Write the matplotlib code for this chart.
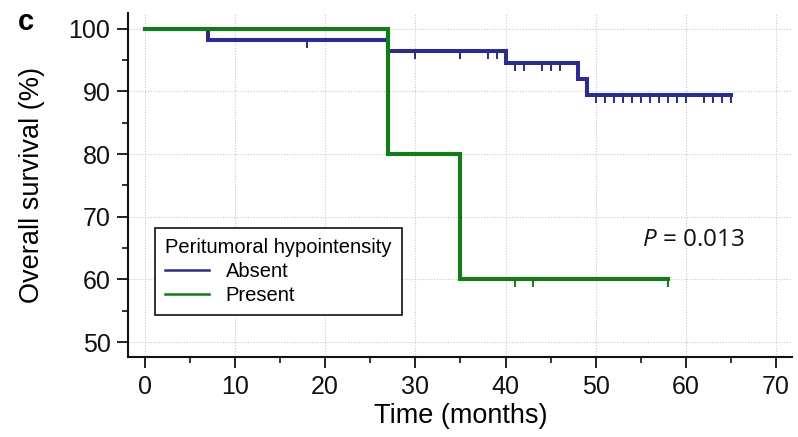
import numpy as np
import matplotlib
matplotlib.use("Agg")
import matplotlib.pyplot as plt
from matplotlib.lines import Line2D

plt.rcParams['font.family'] = ['Liberation Sans', 'DejaVu Sans']
plt.rcParams['mathtext.fontset'] = 'custom'
plt.rcParams['mathtext.it'] = 'Open Sans:italic'
plt.rcParams['mathtext.rm'] = 'Open Sans'

# ---- data ----
absent_times = [0, 7, 27, 40, 48, 49, 65]
absent_surv = [100, 98.2, 96.4, 94.5, 92.0, 89.5, 89.5]
absent_censor = [18, 30, 35, 38, 39, 41, 42, 44, 45, 46,
                 50, 51, 52, 53, 54, 55, 56, 57, 58, 59, 60, 62, 63, 64, 65]
present_times = [0, 27, 35, 58]
present_surv = [100, 80, 60, 60]
present_censor = [41, 43, 58]

series_names = ["Absent", "Present"]
colors = ["#2a2a9a", "#0e7f12"]
x_ticks = [0, 10, 20, 30, 40, 50, 60, 70]
y_ticks = [50, 60, 70, 80, 90, 100]


def surv_at(times, surv, t):
    idx = np.searchsorted(times, t, side='right') - 1
    return np.asarray(surv)[idx]


fig = plt.figure(figsize=(7.98, 4.37), dpi=100)
ax = fig.add_axes([0.161, 0.184, 0.832, 0.786])

ax.set_xlim(-1.8, 71.8)
ax.set_ylim(47.7, 102.5)

ax.set_xticks(x_ticks)
ax.set_yticks(y_ticks)
ax.set_xticks(np.arange(5, 70, 10), minor=True)
ax.set_yticks(np.arange(55, 100, 10), minor=True)
ax.grid(True, which='major', linestyle=(0, (1, 1.5)), color='#c8c8c8', linewidth=0.8)
ax.set_axisbelow(True)

for sp in ['top', 'right']:
    ax.spines[sp].set_visible(False)
for sp in ['left', 'bottom']:
    ax.spines[sp].set_linewidth(1.5)
    ax.spines[sp].set_color('#111111')

ax.tick_params(which='major', direction='out', length=8, width=1.3, labelsize=18, colors='#111111', pad=5)
ax.tick_params(which='minor', direction='out', length=4, width=1.2, colors='#111111')

for times, surv, cens, col in [(absent_times, absent_surv, absent_censor, colors[0]),
                               (present_times, present_surv, present_censor, colors[1])]:
    ax.step(times, surv, where='post', color=col, linewidth=2.9, solid_joinstyle='miter', zorder=3)
    cy = surv_at(times, surv, cens)
    ax.plot(cens, cy, linestyle='none', marker=3, markersize=6, markeredgewidth=1.4,
            color=col, zorder=3)

ax.set_xlabel("Time (months)", fontsize=19.5, labelpad=3)
ax.set_ylabel("Overall survival (%)", fontsize=19.5, labelpad=17)

handles = [Line2D([], [], color=c, linewidth=1.8) for c in colors]
leg = ax.legend(handles, series_names, title="Peritumoral hypointensity",
                loc='upper left', bbox_to_anchor=(0.04, 0.374), borderaxespad=0,
                fontsize=14.5, title_fontsize=14.5, alignment='left',
                handlelength=2.2, handletextpad=0.8, labelspacing=0.25,
                fancybox=False, framealpha=1, edgecolor='#111111',
                borderpad=0.5)
leg.get_frame().set_linewidth(1.2)

ax.text(60.8, 66.3, "$P$ = 0.013", fontsize=17.5, family='Open Sans',
        ha='center', va='center', color='#111111')

fig.text(0.033, 0.95, "c", fontsize=21, fontweight='bold', ha='center', va='center')

fig.savefig("out.png", dpi=100)
